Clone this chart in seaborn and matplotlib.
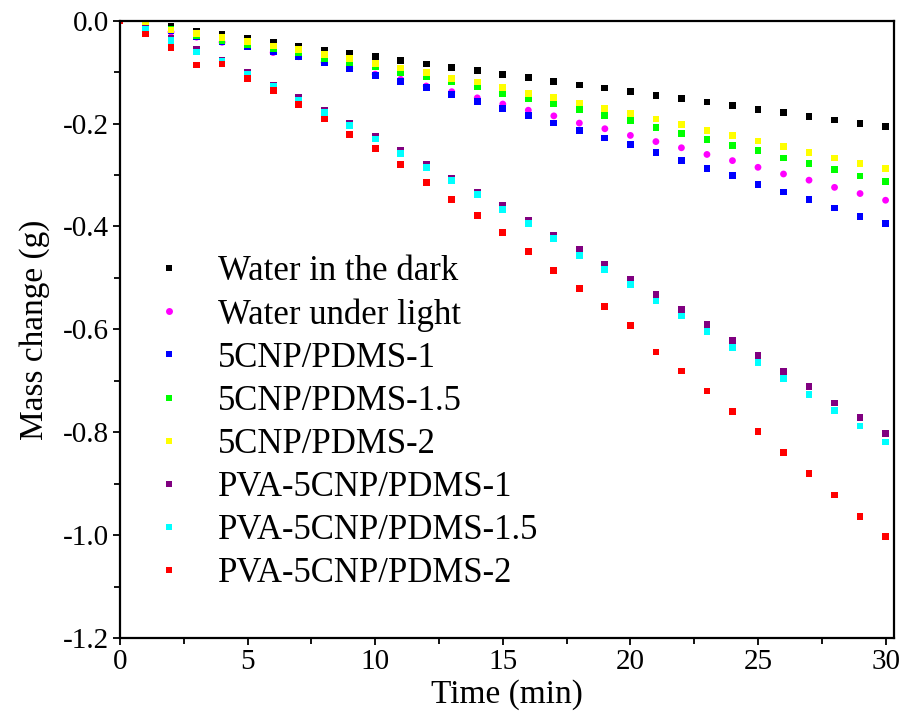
import numpy as np
import pandas as pd
import matplotlib
matplotlib.use("Agg")
import matplotlib.pyplot as plt
import seaborn as sns
from matplotlib.ticker import MultipleLocator, FormatStrFormatter

time_min = list(range(0, 31))

water_dark = [0, -0.006, -0.012, -0.020, -0.027, -0.034, -0.042, -0.049, -0.057, -0.063, -0.070,
              -0.078, -0.084, -0.091, -0.097, -0.105, -0.111, -0.118, -0.125, -0.131, -0.138,
              -0.146, -0.152, -0.158, -0.165, -0.172, -0.179, -0.186, -0.193, -0.200, -0.206]
water_light = [0, -0.013, -0.022, -0.032, -0.042, -0.050, -0.062, -0.070, -0.081, -0.093, -0.104,
               -0.114, -0.127, -0.138, -0.150, -0.162, -0.174, -0.185, -0.199, -0.210, -0.223,
               -0.235, -0.247, -0.260, -0.272, -0.285, -0.298, -0.310, -0.324, -0.336, -0.349]
cnp_1 = [0, -0.011, -0.020, -0.030, -0.040, -0.050, -0.060, -0.070, -0.081, -0.093, -0.107,
         -0.118, -0.130, -0.144, -0.157, -0.171, -0.185, -0.199, -0.214, -0.228, -0.241,
         -0.256, -0.271, -0.287, -0.301, -0.318, -0.333, -0.348, -0.364, -0.381, -0.395]
cnp_15 = [0, -0.005, -0.016, -0.028, -0.038, -0.046, -0.055, -0.062, -0.073, -0.081, -0.090,
          -0.100, -0.109, -0.119, -0.128, -0.142, -0.152, -0.161, -0.173, -0.185, -0.194,
          -0.207, -0.219, -0.231, -0.243, -0.253, -0.267, -0.278, -0.289, -0.302, -0.313]
cnp_2 = [0, -0.009, -0.018, -0.025, -0.032, -0.041, -0.049, -0.056, -0.065, -0.074, -0.083,
         -0.092, -0.100, -0.112, -0.119, -0.130, -0.141, -0.150, -0.160, -0.170, -0.181,
         -0.191, -0.202, -0.213, -0.223, -0.234, -0.245, -0.256, -0.267, -0.277, -0.288]
pva_1 = [0, -0.015, -0.034, -0.056, -0.078, -0.101, -0.125, -0.149, -0.174, -0.199, -0.225,
         -0.252, -0.280, -0.306, -0.333, -0.360, -0.389, -0.418, -0.445, -0.474, -0.503,
         -0.532, -0.562, -0.591, -0.622, -0.651, -0.682, -0.711, -0.743, -0.772, -0.802]
pva_15 = [0, -0.017, -0.039, -0.061, -0.080, -0.105, -0.128, -0.154, -0.178, -0.204, -0.230,
          -0.258, -0.285, -0.311, -0.338, -0.367, -0.394, -0.424, -0.456, -0.484, -0.513,
          -0.545, -0.574, -0.604, -0.635, -0.665, -0.696, -0.726, -0.757, -0.788, -0.819]
pva_2 = [0, -0.026, -0.052, -0.086, -0.084, -0.112, -0.136, -0.163, -0.191, -0.221, -0.248,
         -0.280, -0.314, -0.347, -0.379, -0.412, -0.449, -0.485, -0.521, -0.555, -0.593,
         -0.644, -0.681, -0.720, -0.760, -0.799, -0.840, -0.880, -0.922, -0.964, -1.002]

series_names = ["Water in the dark", "Water under light", "5CNP/PDMS-1", "5CNP/PDMS-1.5",
                "5CNP/PDMS-2", "PVA-5CNP/PDMS-1", "PVA-5CNP/PDMS-1.5", "PVA-5CNP/PDMS-2"]
series_values = [water_dark, water_light, cnp_1, cnp_15, cnp_2, pva_1, pva_15, pva_2]
colors = ["#000000", "#FF00FF", "#0000FF", "#00FF00", "#FFFF00", "#800080", "#00FFFF", "#FF0000"]
markers = ["s", "o", "s", "s", "s", "s", "s", "s"]

frames = []
for name, vals in zip(series_names, series_values):
    frames.append(pd.DataFrame({"Time": time_min, "Mass": vals, "Series": name}))
df = pd.concat(frames, ignore_index=True)

sns.set_style("ticks")
plt.rcParams["font.family"] = ["Liberation Serif", "DejaVu Serif"]
plt.rcParams["text.color"] = "black"
plt.rcParams["axes.labelcolor"] = "black"
plt.rcParams["xtick.color"] = "black"
plt.rcParams["ytick.color"] = "black"
plt.rcParams["axes.edgecolor"] = "black"

fig = plt.figure(figsize=(9.06, 7.19), dpi=100)
ax = fig.add_axes([120 / 906, 1 - 638 / 719, (894 - 120) / 906, (638 - 20.7) / 719])

sns.scatterplot(data=df, x="Time", y="Mass", hue="Series", style="Series",
                hue_order=series_names, style_order=series_names,
                palette=dict(zip(series_names, colors)),
                markers=dict(zip(series_names, markers)),
                s=24, linewidth=0, ax=ax, legend=True)

ax.set_xlim(0, 30.33)
ax.set_ylim(-1.2, 0)
ax.xaxis.set_major_locator(MultipleLocator(5))
ax.xaxis.set_minor_locator(MultipleLocator(2.5))
ax.yaxis.set_major_locator(MultipleLocator(0.2))
ax.yaxis.set_minor_locator(MultipleLocator(0.1))
ax.yaxis.set_major_formatter(FormatStrFormatter("%.1f"))
ax.tick_params(axis="both", which="major", direction="out", length=5, width=1.3,
               labelsize=21, pad=3, top=False, right=False, colors="black")
ax.tick_params(axis="both", which="minor", direction="out", length=4, width=1.3,
               top=False, right=False, colors="black")
for sp in ax.spines.values():
    sp.set_visible(True)
    sp.set_linewidth(1.6)
    sp.set_color("black")

ax.set_xlabel("Time (min)", fontsize=24, labelpad=3, color="black")
ax.set_ylabel("Mass change (g)", fontsize=24, labelpad=9, color="black")

handles, labels = ax.get_legend_handles_labels()
for h in handles:
    try:
        h.set_markersize(5)
    except Exception:
        pass
leg = ax.legend(handles, labels, loc="upper left", bbox_to_anchor=(151.6 / 906, 1 - 255 / 719),
                bbox_transform=fig.transFigure, frameon=False, fontsize=25,
                handlelength=1.0, handletextpad=0.9, labelspacing=0.29,
                borderpad=0, borderaxespad=0, markerscale=1.0)
for t in leg.get_texts():
    t.set_color("black")

fig.savefig("out.png", dpi=100)
